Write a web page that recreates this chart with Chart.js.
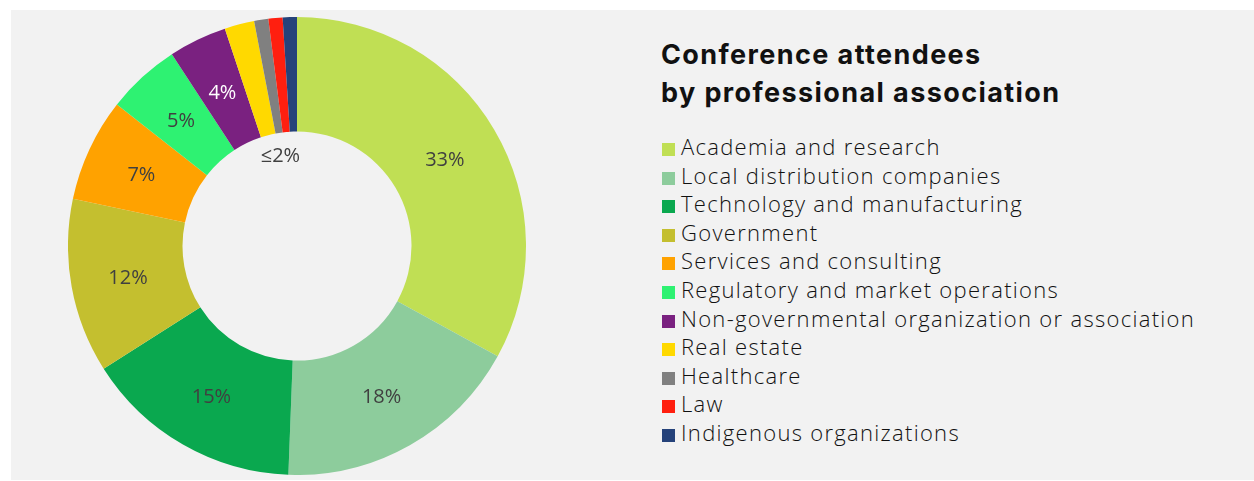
<!DOCTYPE html>
<html>
<head>
<meta charset="utf-8">
<script src="https://cdn.jsdelivr.net/npm/chart.js@4/dist/chart.umd.min.js"></script>
<style>
  html, body { margin: 0; padding: 0; background: #fff; }
  body { width: 1254px; height: 481px; position: relative; overflow: hidden; }
  #panel { position: absolute; left: 11px; top: 10px; right: 0; height: 470px; background: #f2f2f2; }
  #chartBox { position: absolute; left: 68px; top: 17px; width: 458px; height: 458px; }
  #title { position: absolute; left: 661px; top: 36px; font-family: Inter, "Noto Sans", sans-serif; font-weight: 700;
           font-size: 27px; line-height: 38px; color: #111; letter-spacing: 1.4px; }
  #legend { position: absolute; left: 662px; top: 132px; font-family: "Open Sans", "Noto Sans", sans-serif; font-weight: 300;
            font-size: 22px; color: #111; letter-spacing: 1.3px; }
  .item { height: 28.6px; line-height: 28.6px; white-space: nowrap; }
  .sw { display: inline-block; width: 13px; height: 13px; margin-right: 6px; vertical-align: -1px; }
</style>
</head>
<body>
<div id="panel"></div>
<div id="chartBox"><canvas id="donut"></canvas></div>
<div id="title">Conference attendees<br>by professional association</div>
<div id="legend"></div>
<script>
// categories and shares (percent of attendees)
const categories = ['Academia and research', 'Local distribution companies', 'Technology and manufacturing',
  'Government', 'Services and consulting', 'Regulatory and market operations',
  'Non-governmental organization or association', 'Real estate', 'Healthcare', 'Law', 'Indigenous organizations'];
const shares = [33, 17.6, 15.4, 12.3, 7.3, 5.2, 4.1, 2.1, 1, 1, 1];
const sliceLabels = ['33%', '18%', '15%', '12%', '7%', '5%', '4%', '', '', '', ''];
const colors = ['#c0df54', '#8dcc9c', '#0aa84f', '#c4bf2f', '#ffa200', '#2ef272', '#7a2180',
  '#ffd900', '#808080', '#ff1f0f', '#25427a'];
const smallLabel = '≤2%'; // covers the last four slices

// legend
const legend = document.getElementById('legend');
categories.forEach((c, i) => {
  const d = document.createElement('div');
  d.className = 'item';
  d.innerHTML = '<span class="sw" style="background:' + colors[i] + '"></span>' + c;
  legend.appendChild(d);
});

// draw % labels at the middle of each arc
const sliceText = {
  id: 'sliceText',
  afterDatasetsDraw(chart) {
    const ctx = chart.ctx;
    const arcs = chart.getDatasetMeta(0).data;
    ctx.save();
    ctx.font = '20px "Open Sans", "Noto Sans", sans-serif';
    ctx.textAlign = 'center';
    ctx.textBaseline = 'middle';
    arcs.forEach((a, i) => {
      if (!sliceLabels[i]) return;
      const p = a.tooltipPosition();
      ctx.fillStyle = i === 6 ? '#ffffff' : '#404040';
      ctx.fillText(sliceLabels[i], p.x, p.y + 2);
    });
    // grouped small slices, label inside the hole
    const first = arcs[7], last = arcs[10];
    const mid = (first.startAngle + last.endAngle) / 2 - 0.02;
    const r = first.innerRadius - 22;
    ctx.fillStyle = '#404040';
    ctx.fillText(smallLabel, first.x + Math.cos(mid) * r, first.y + Math.sin(mid) * r + 1);
    ctx.restore();
  }
};

new Chart(document.getElementById('donut'), {
  type: 'doughnut',
  data: {
    labels: categories,
    datasets: [{ data: shares, backgroundColor: colors, borderWidth: 0 }]
  },
  options: {
    responsive: true,
    maintainAspectRatio: false,
    animation: false,
    cutout: '50%',
    layout: { padding: 0 },
    plugins: { legend: { display: false }, tooltip: { enabled: false } }
  },
  plugins: [sliceText]
});
</script>
</body>
</html>
